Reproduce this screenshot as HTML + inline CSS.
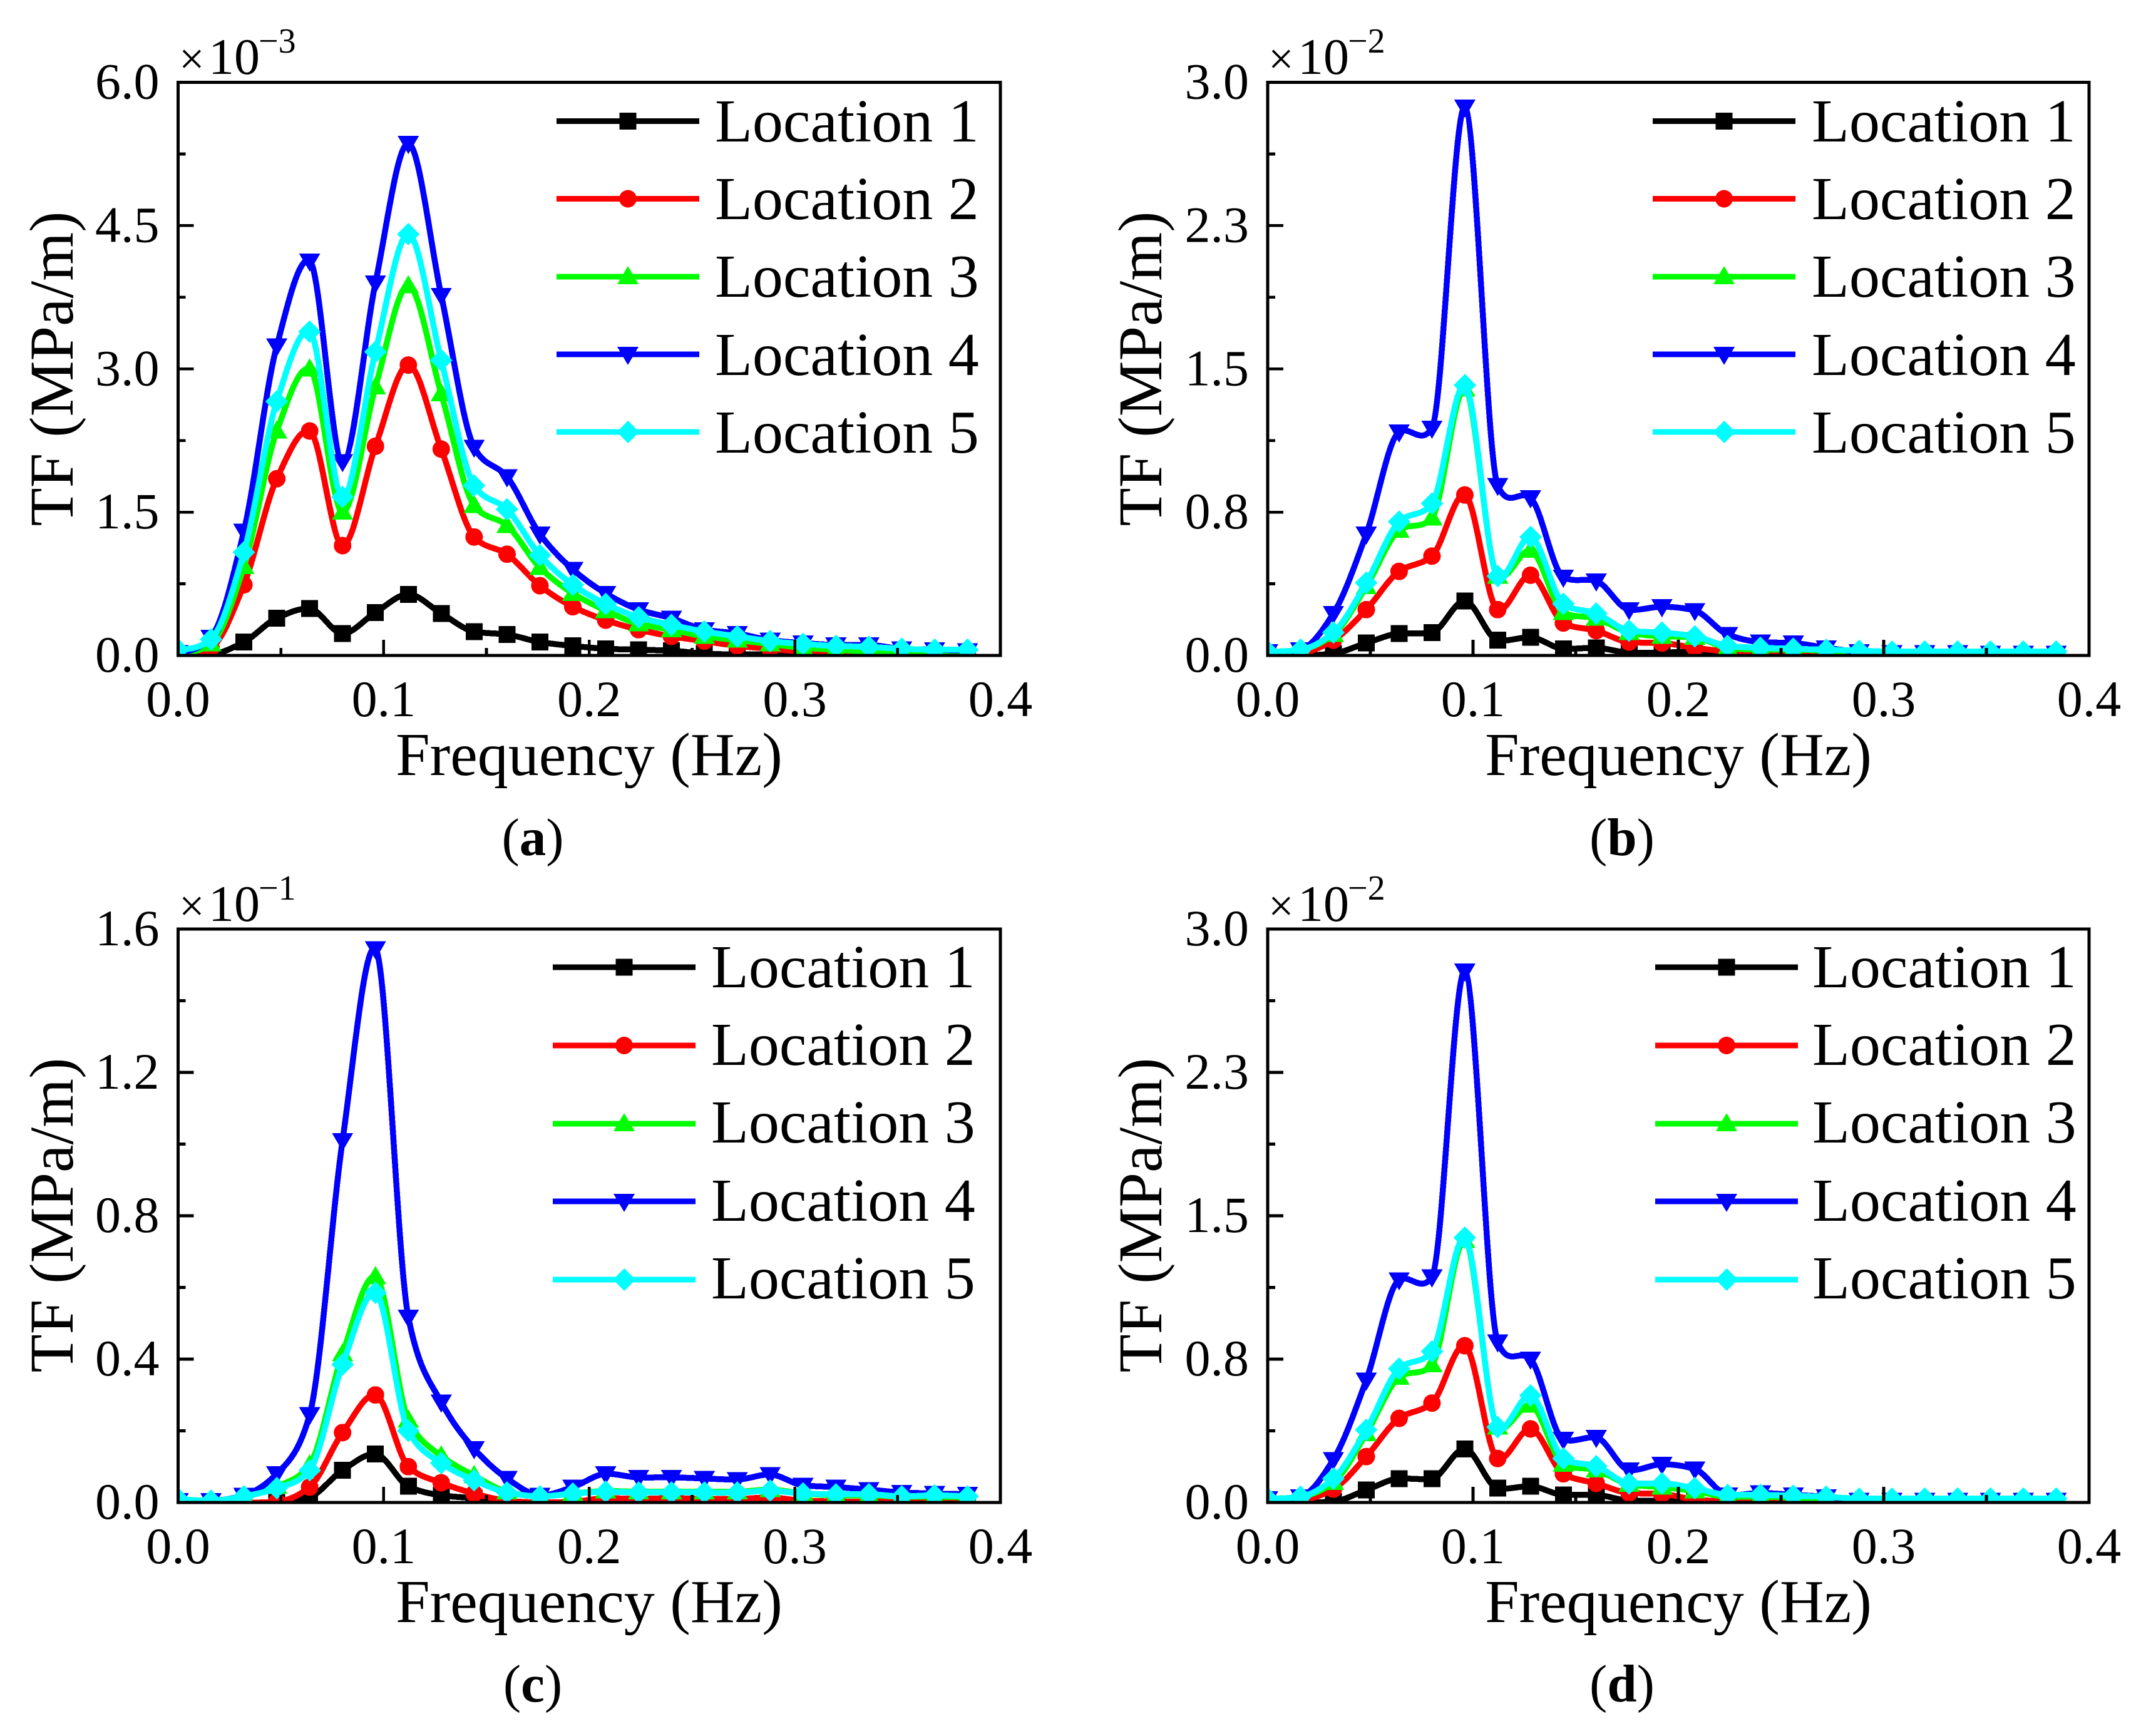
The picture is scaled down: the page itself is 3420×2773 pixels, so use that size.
<!DOCTYPE html>
<html lang="en">
<head>
<meta charset="utf-8">
<title>Transfer function vs frequency at five locations</title>
<style>
html,body{margin:0;padding:0;background:#fff;}
svg{display:block;shape-rendering:crispEdges;}
text{font-family:"Liberation Serif","Times New Roman",serif;fill:#000;}
</style>
</head>
<body>
<svg id="fig" xmlns="http://www.w3.org/2000/svg" width="3420" height="2773" viewBox="0 0 3420 2773">
<rect x="0" y="0" width="3420" height="2773" fill="#fff"/>
<g id="panel-a">
 <text transform="translate(116,589) rotate(-90)" text-anchor="middle" font-size="100">TF (MPa/m)</text>
 <text x="941" y="1238" text-anchor="middle" font-size="98">Frequency (Hz)</text>
 <text x="851" y="1366" text-anchor="middle" font-size="85">(<tspan font-weight="bold">a</tspan>)</text>
 <g><text x="286" y="118" font-size="72">×</text><text x="333" y="118" font-size="82">10</text><text x="413" y="84" font-size="56">−3</text></g>
 <g font-size="98">
  <text x="1142" y="226">Location 1</text>
  <text x="1142" y="350">Location 2</text>
  <text x="1142" y="474">Location 3</text>
  <text x="1142" y="599">Location 4</text>
  <text x="1142" y="723">Location 5</text>
 </g>
</g>
<g id="panel-b">
 <text transform="translate(1855,589) rotate(-90)" text-anchor="middle" font-size="100">TF (MPa/m)</text>
 <text x="2681" y="1238" text-anchor="middle" font-size="98">Frequency (Hz)</text>
 <text x="2591" y="1366" text-anchor="middle" font-size="85">(<tspan font-weight="bold">b</tspan>)</text>
 <g><text x="2026" y="118" font-size="72">×</text><text x="2073" y="118" font-size="82">10</text><text x="2153" y="84" font-size="56">−2</text></g>
 <g font-size="98">
  <text x="2894" y="226">Location 1</text>
  <text x="2894" y="350">Location 2</text>
  <text x="2894" y="474">Location 3</text>
  <text x="2894" y="599">Location 4</text>
  <text x="2894" y="723">Location 5</text>
 </g>
</g>
<g id="panel-c">
 <text transform="translate(116,1941) rotate(-90)" text-anchor="middle" font-size="100">TF (MPa/m)</text>
 <text x="941" y="2591" text-anchor="middle" font-size="98">Frequency (Hz)</text>
 <text x="851" y="2718" text-anchor="middle" font-size="85">(<tspan font-weight="bold">c</tspan>)</text>
 <g><text x="286" y="1471" font-size="72">×</text><text x="333" y="1471" font-size="82">10</text><text x="413" y="1437" font-size="56">−1</text></g>
 <g font-size="98">
  <text x="1136" y="1577">Location 1</text>
  <text x="1136" y="1701">Location 2</text>
  <text x="1136" y="1825">Location 3</text>
  <text x="1136" y="1950">Location 4</text>
  <text x="1136" y="2074">Location 5</text>
 </g>
</g>
<g id="panel-d">
 <text transform="translate(1855,1941) rotate(-90)" text-anchor="middle" font-size="100">TF (MPa/m)</text>
 <text x="2681" y="2591" text-anchor="middle" font-size="98">Frequency (Hz)</text>
 <text x="2591" y="2718" text-anchor="middle" font-size="85">(<tspan font-weight="bold">d</tspan>)</text>
 <g><text x="2026" y="1471" font-size="72">×</text><text x="2073" y="1471" font-size="82">10</text><text x="2153" y="1437" font-size="56">−2</text></g>
 <g font-size="98">
  <text x="2895" y="1577">Location 1</text>
  <text x="2895" y="1701">Location 2</text>
  <text x="2895" y="1825">Location 3</text>
  <text x="2895" y="1950">Location 4</text>
  <text x="2895" y="2074">Location 5</text>
 </g>
</g>
</svg>
<script>
// Frequency categories (Hz)
var frequencies = [0,0.016,0.032,0.048,0.064,0.08,0.096,0.112,0.128,0.144,0.16,0.176,0.192,0.208,0.224,0.24,0.256,0.272,0.288,0.304,0.32,0.336,0.352,0.368,0.384];
var xTickValues = [0,0.1,0.2,0.3,0.4];
var xTickLabels = ["0.0","0.1","0.2","0.3","0.4"];

// Panel a (×10^-3)
var aTicks = [0,1.5,3,4.5,6];
var aTickLabels = ["0.0","1.5","3.0","4.5","6.0"];
var aLoc1 = [0,0.01,0.14,0.39,0.49,0.23,0.45,0.64,0.44,0.25,0.22,0.14,0.10,0.07,0.06,0.05,0.02,0.01,0.01,0,0,0,0,0,0];
var aLoc2 = [0.02,0.08,0.74,1.85,2.35,1.15,2.19,3.04,2.16,1.24,1.06,0.73,0.51,0.37,0.27,0.20,0.15,0.10,0.07,0.04,0.03,0.02,0.01,0.01,0.01];
var aLoc3 = [0.03,0.12,0.93,2.35,3.00,1.50,2.81,3.87,2.74,1.57,1.36,0.92,0.65,0.47,0.33,0.27,0.20,0.16,0.12,0.08,0.06,0.04,0.03,0.02,0.02];
var aLoc4 = [0.03,0.19,1.30,3.24,4.13,2.03,3.90,5.36,3.77,2.18,1.87,1.27,0.90,0.65,0.48,0.39,0.27,0.23,0.16,0.13,0.11,0.11,0.07,0.06,0.05];
var aLoc5 = [0.06,0.17,1.08,2.66,3.39,1.66,3.18,4.41,3.09,1.78,1.53,1.05,0.74,0.54,0.40,0.32,0.25,0.20,0.15,0.12,0.10,0.09,0.07,0.06,0.06];

// Panel b (×10^-2)
var bTicks = [0,0.75,1.5,2.25,3];
var bTickLabels = ["0.0","0.8","1.5","2.3","3.0"];
var bLoc1 = [0,0,0.01,0.065,0.115,0.12,0.285,0.08,0.095,0.035,0.04,0.015,0.015,0.02,0.005,0,0,0,0,0,0,0,0,0,0];
var bLoc2 = [0,0.01,0.08,0.24,0.44,0.52,0.84,0.24,0.42,0.17,0.13,0.07,0.065,0.04,0.02,0.01,0.01,0.005,0,0,0,0,0,0,0];
var bLoc3 = [0.02,0.03,0.11,0.36,0.655,0.72,1.395,0.415,0.55,0.225,0.195,0.12,0.10,0.095,0.04,0.03,0.03,0.025,0.02,0.015,0.015,0.015,0.015,0.015,0.015];
var bLoc4 = [0.02,0.03,0.22,0.635,1.17,1.19,2.87,0.89,0.825,0.41,0.39,0.24,0.255,0.235,0.11,0.07,0.065,0.04,0.02,0.015,0.015,0.015,0.012,0.012,0.012];
var bLoc5 = [0.02,0.03,0.12,0.38,0.70,0.795,1.415,0.415,0.62,0.27,0.22,0.13,0.12,0.10,0.05,0.04,0.035,0.03,0.025,0.02,0.02,0.02,0.02,0.02,0.02];

// Panel c (×10^-1)
var cTicks = [0,0.4,0.8,1.2,1.6];
var cTickLabels = ["0.0","0.4","0.8","1.2","1.6"];
var cLoc1 = [0,0,0,0,0.015,0.09,0.135,0.045,0.02,0.012,0.002,0,0,0,0,0,0,0,0,0,0,0,0,0,0];
var cLoc2 = [0,0,0,0.002,0.043,0.195,0.30,0.10,0.055,0.025,0.005,0,0.002,0.012,0.01,0.012,0.01,0.01,0.014,0.005,0.003,0.002,0.002,0.002,0.002];
var cLoc3 = [0.01,0.005,0.017,0.045,0.105,0.415,0.63,0.23,0.13,0.075,0.03,0.017,0.025,0.032,0.03,0.03,0.03,0.03,0.036,0.025,0.02,0.02,0.016,0.016,0.014];
var cLoc4 = [0.005,0.005,0.02,0.08,0.245,1.01,1.545,0.517,0.28,0.15,0.067,0.02,0.043,0.08,0.07,0.07,0.067,0.064,0.078,0.048,0.043,0.036,0.028,0.025,0.023];
var cLoc5 = [0.01,0.005,0.017,0.04,0.09,0.385,0.585,0.20,0.11,0.062,0.028,0.017,0.025,0.03,0.028,0.028,0.028,0.028,0.033,0.025,0.023,0.023,0.017,0.02,0.017];

// Panel d (×10^-2)
var dTicks = [0,0.75,1.5,2.25,3];
var dTickLabels = ["0.0","0.8","1.5","2.3","3.0"];
var dLoc1 = [0,0,0.005,0.065,0.125,0.125,0.28,0.075,0.085,0.04,0.04,0.01,0.01,0.01,0,0,0,0,0,0,0,0,0,0,0];
var dLoc2 = [0,0.01,0.07,0.24,0.44,0.52,0.82,0.23,0.385,0.15,0.10,0.05,0.045,0.015,0.005,0,0,0,0,0,0,0,0,0,0];
var dLoc3 = [0.02,0.03,0.105,0.36,0.655,0.72,1.37,0.395,0.51,0.20,0.17,0.095,0.08,0.06,0.03,0.03,0.025,0.02,0.015,0.015,0.012,0.012,0.012,0.012,0.012];
var dLoc4 = [0.02,0.03,0.225,0.64,1.165,1.18,2.78,0.84,0.75,0.33,0.34,0.17,0.20,0.175,0.04,0.05,0.04,0.03,0.012,0.012,0.012,0.012,0.012,0.012,0.012];
var dLoc5 = [0.02,0.03,0.125,0.38,0.70,0.79,1.385,0.395,0.56,0.23,0.19,0.10,0.10,0.075,0.04,0.04,0.035,0.03,0.02,0.02,0.02,0.02,0.02,0.02,0.02];

var seriesNames = ["location-1","location-2","location-3","location-4","location-5"];
var seriesColors = ["#000000","#ff0000","#00ff00","#0000ff","#00ffff"];
var seriesMarkers = ["square","circle","up","down","diamond"];

var NS = "http://www.w3.org/2000/svg";

function mk(parent, tag, attrs) {
  var el = document.createElementNS(NS, tag);
  for (var k in attrs) el.setAttribute(k, attrs[k]);
  parent.appendChild(el);
  return el;
}

// Smooth curve: tangents blended between monotone (no overshoot) and Catmull-Rom
function splinePath(px, py) {
  var n = px.length, h = px[1] - px[0], blend = 0.3;
  var slope = [], tan = [];
  for (var i = 0; i < n - 1; i++) slope.push((py[i + 1] - py[i]) / (px[i + 1] - px[i]));
  for (var j = 1; j < n - 1; j++) {
    var a = slope[j - 1], b = slope[j];
    var mono = (a * b <= 0) ? 0 : 2 * a * b / (a + b);
    tan[j] = (1 - blend) * mono + blend * (a + b) / 2;
  }
  tan[0] = 1.5 * slope[0] - 0.5 * tan[1];
  tan[n - 1] = 1.5 * slope[n - 2] - 0.5 * tan[n - 2];
  var d = "M" + px[0].toFixed(2) + " " + py[0].toFixed(2);
  for (var s = 0; s < n - 1; s++) {
    var dx = (px[s + 1] - px[s]) / 3;
    d += "C" + (px[s] + dx).toFixed(2) + " " + (py[s] + tan[s] * dx).toFixed(2) +
         " " + (px[s + 1] - dx).toFixed(2) + " " + (py[s + 1] - tan[s + 1] * dx).toFixed(2) +
         " " + px[s + 1].toFixed(2) + " " + py[s + 1].toFixed(2);
  }
  return d;
}

function marker(parent, kind, cx, cy, color) {
  var el;
  if (kind === "square") {
    el = mk(parent, "rect", {x: cx - 13.5, y: cy - 13.5, width: 27, height: 27, fill: color});
  } else if (kind === "circle") {
    el = mk(parent, "circle", {cx: cx, cy: cy, r: 14, fill: color});
  } else if (kind === "up") {
    el = mk(parent, "polygon", {points: (cx - 17) + "," + (cy + 12) + " " + (cx + 17) + "," + (cy + 12) + " " + cx + "," + (cy - 17), fill: color});
  } else if (kind === "down") {
    el = mk(parent, "polygon", {points: (cx - 17) + "," + (cy - 12) + " " + (cx + 17) + "," + (cy - 12) + " " + cx + "," + (cy + 17), fill: color});
  } else {
    el = mk(parent, "polygon", {points: (cx - 18) + "," + cy + " " + cx + "," + (cy - 18) + " " + (cx + 18) + "," + cy + " " + cx + "," + (cy + 18), fill: color});
  }
  return el;
}

function drawPanel(id, box, yTicks, yLabels, series, legendX, legendYs) {
  var panel = document.getElementById(id);
  var letter = id.slice(-1);
  var yMax = yTicks[yTicks.length - 1];
  var xScale = function (v) { return box.left + (v / 0.4) * (box.right - box.left); };
  var yScale = function (v) { return box.bottom - (v / yMax) * (box.bottom - box.top); };

  var clip = mk(panel, "clipPath", {id: "clip-" + letter});
  mk(clip, "rect", {x: box.left, y: box.top, width: box.right - box.left, height: box.bottom - box.top});

  var plot = mk(panel, "g", {"clip-path": "url(#clip-" + letter + ")"});
  
  

  series.forEach(function (values, s) {
    var g = mk(plot, "g", {});
    
    
    var px = frequencies.map(xScale);
    var py = values.map(yScale);
    var line = mk(g, "path", {d: splinePath(px, py), fill: "none", stroke: seriesColors[s], "stroke-width": 9.5, "stroke-linejoin": "round"});
    
    
    px.forEach(function (x, i) {
      var m = marker(g, seriesMarkers[s], x, py[i], seriesColors[s]);
      
      
    });
  });

  var axes = mk(panel, "g", {stroke: "#000", "stroke-width": 4.7, fill: "none"});
  
  
  var frame = mk(axes, "rect", {x: box.left, y: box.top, width: box.right - box.left, height: box.bottom - box.top});
  
  

  var labels = mk(panel, "g", {"font-size": 82});
  
  

  xTickValues.forEach(function (v, i) {
    var x = xScale(v);
    var t = mk(axes, "line", {x1: x, x2: x, y1: box.bottom, y2: box.bottom - 25});
    
    
    if (i < xTickValues.length - 1) {
      var xm = xScale((v + xTickValues[i + 1]) / 2);
      var tm = mk(axes, "line", {x1: xm, x2: xm, y1: box.bottom, y2: box.bottom - 12});
      
      
    }
    var lab = mk(labels, "text", {x: x, y: box.bottom + 97, "text-anchor": "middle"});
    lab.textContent = xTickLabels[i];
    
    
  });

  yTicks.forEach(function (v, i) {
    var y = yScale(v);
    var t = mk(axes, "line", {x1: box.left, x2: box.left + 25, y1: y, y2: y});
    
    
    if (i < yTicks.length - 1) {
      var ym = yScale((v + yTicks[i + 1]) / 2);
      var tm = mk(axes, "line", {x1: box.left, x2: box.left + 12, y1: ym, y2: ym});
      
      
    }
    var lab = mk(labels, "text", {x: box.left - 30, y: y + 26, "text-anchor": "end"});
    lab.textContent = yLabels[i];
    
    
  });

  seriesNames.forEach(function (name, s) {
    var g = mk(panel, "g", {});
    
    
    mk(g, "line", {x1: legendX, x2: legendX + 228, y1: legendYs[s], y2: legendYs[s], stroke: seriesColors[s], "stroke-width": 9});
    marker(g, seriesMarkers[s], legendX + 114, legendYs[s], seriesColors[s]);
  });
}

var legendRowsTop = [193.5,317.5,442,566,690];
var legendRowsBottom = [1545,1670,1795,1919,2044];

drawPanel("panel-a", {left: 284.5, right: 1598, top: 131.5, bottom: 1047}, aTicks, aTickLabels, [aLoc1, aLoc2, aLoc3, aLoc4, aLoc5], 889, legendRowsTop);
drawPanel("panel-b", {left: 2025, right: 3337, top: 131.5, bottom: 1047}, bTicks, bTickLabels, [bLoc1, bLoc2, bLoc3, bLoc4, bLoc5], 2640, legendRowsTop);
drawPanel("panel-c", {left: 284.5, right: 1598, top: 1484, bottom: 2400}, cTicks, cTickLabels, [cLoc1, cLoc2, cLoc3, cLoc4, cLoc5], 883, legendRowsBottom);
drawPanel("panel-d", {left: 2025, right: 3337, top: 1484, bottom: 2400}, dTicks, dTickLabels, [dLoc1, dLoc2, dLoc3, dLoc4, dLoc5], 2644, legendRowsBottom);
</script>
</body>
</html>
